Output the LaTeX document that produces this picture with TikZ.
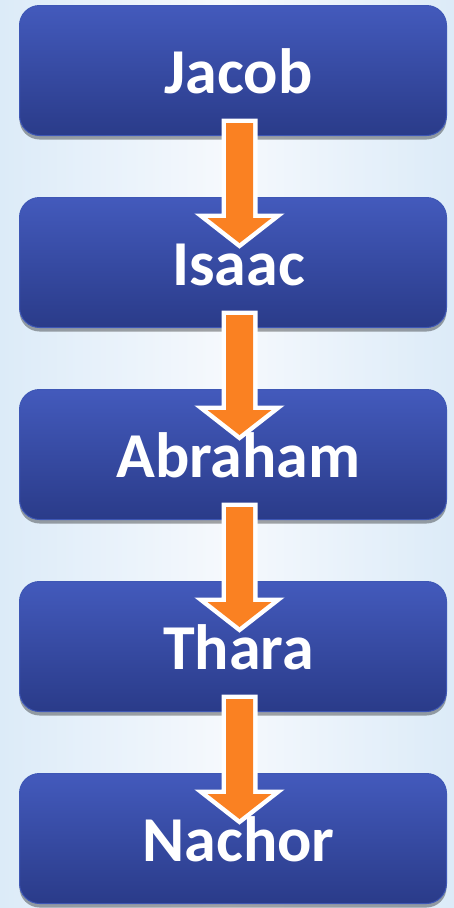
\documentclass[tikz,border=0pt]{standalone}
\usepackage{fontspec}
\setmainfont{Carlito}
\usetikzlibrary{calc,shadows}
\definecolor{boxtop}{HTML}{435ABC}
\definecolor{boxbot}{HTML}{2A3B89}
\definecolor{boxedge}{HTML}{3E57B5}
\definecolor{arroworange}{HTML}{FA8122}
\definecolor{bgedge}{HTML}{DCEBF8}
\definecolor{bgmid}{HTML}{F6F9FD}
\tikzset{
  x=1pt, y=1pt,
  namebox/.style={rectangle, rounded corners=20pt, minimum width=427pt, minimum height=130pt,
    top color=boxtop, bottom color=boxbot, draw=boxedge, line width=1pt,
    drop shadow={shadow xshift=0pt, shadow yshift=-4pt, opacity=0.35, fill=black}},
  nametext/.style={font=\bfseries\fontsize{64}{64}\selectfont, anchor=base, inner sep=0pt, text=white},
  arrowoutline/.style={draw=white, line width=9pt, line join=miter, fill=arroworange},
  arrowfill/.style={fill=arroworange},
}
\newcommand\blockarrow[2]{%
  \foreach \sty in {arrowoutline,arrowfill}{%
  \path[\sty] let \p1=($(#1.south)+(6.5,13)$), \p2=($(#2.north)+(6.5,-46)$) in
    ({\x1-13.5pt},{\y1}) -- ({\x1+13.5pt},{\y1}) -- ({\x1+13.5pt},{\y2+25pt}) --
    ({\x1+32pt},{\y2+25pt}) -- ({\x1},{\y2}) -- ({\x1-32pt},{\y2+25pt}) --
    ({\x1-13.5pt},{\y2+25pt}) -- cycle;}%
}
\begin{document}
\begin{tikzpicture}
\useasboundingbox (0,0) rectangle (454,-908);
\shade[left color=bgedge, right color=bgedge, middle color=bgmid] (0,0) rectangle (454,-908);
% boxes
\node[namebox] (b1) at (233,-70.5) {};
\node[namebox] (b2) at (233,-262.5) {};
\node[namebox] (b3) at (233,-454.5) {};
\node[namebox] (b4) at (233,-646.5) {};
\node[namebox] (b5) at (233,-838.5) {};
% arrows
\blockarrow{b1}{b2}
\blockarrow{b2}{b3}
\blockarrow{b3}{b4}
\blockarrow{b4}{b5}
% text
\node[nametext] (t1) at (238.5,-93) {Jacob};
\node[nametext] (t2) at (238.5,-285) {Isaac};
\node[nametext] (t3) at (238.5,-477) {Abraham};
\node[nametext] (t4) at (238.5,-669) {Thara};
\node[nametext] (t5) at (238.5,-861) {Nachor};
\end{tikzpicture}
\end{document}
